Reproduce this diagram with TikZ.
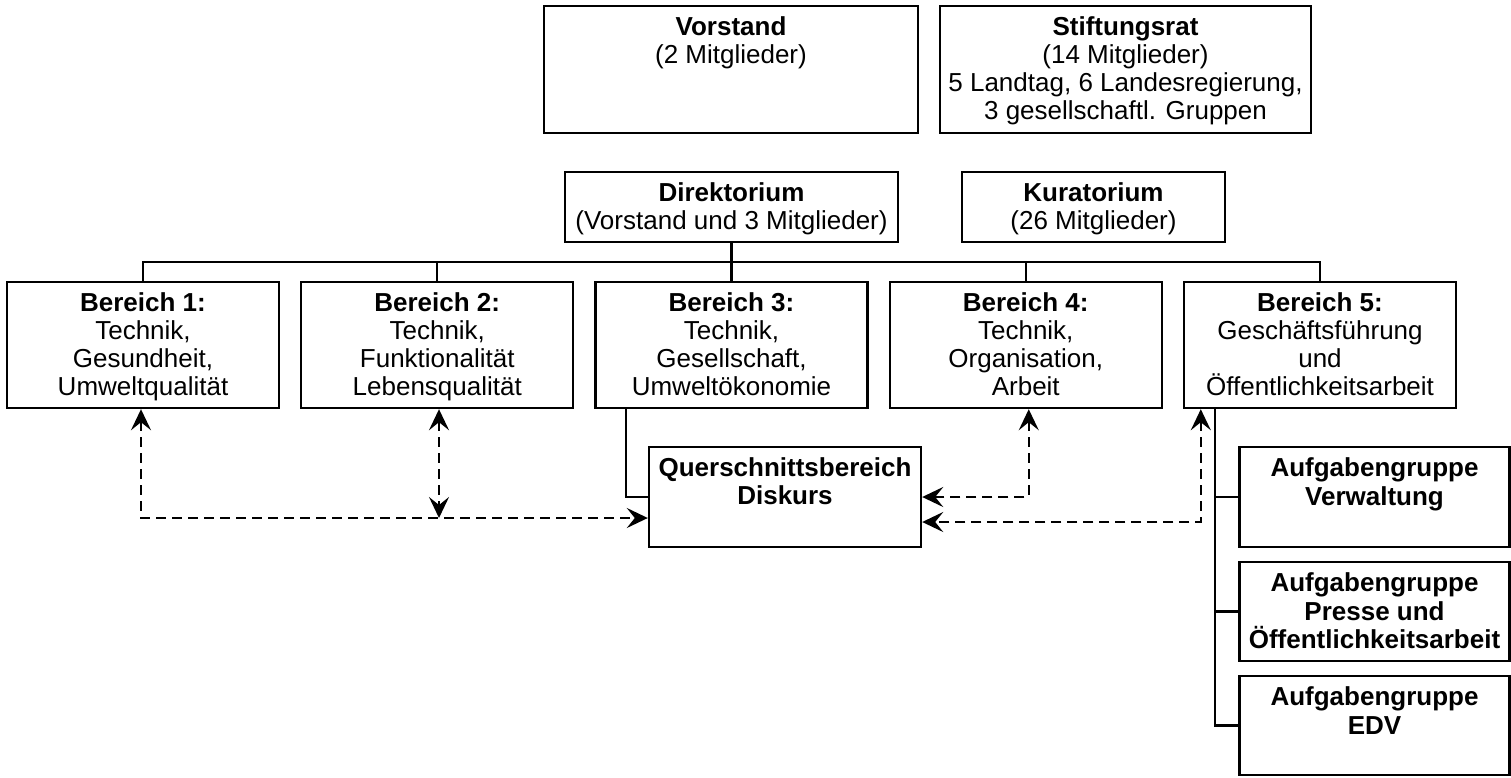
\documentclass[tikz,border=0pt]{standalone}
\usepackage{fontspec}
\setmainfont{Liberation Sans}
\usetikzlibrary{arrows.meta}
\begin{document}
\begin{tikzpicture}[x=1pt, y=-1pt,
  box/.style={draw, line width=2.4pt, inner sep=0pt},
  txt/.style={anchor=north, inner sep=0pt, align=center, font=\fontsize{26}{27.8}\selectfont},
  conn/.style={line width=2.2pt},
  tip/.style={Stealth[length=21pt,width=20pt,inset=8pt]},
  dlink/.style={line width=2.2pt, dash pattern=on 10pt off 6pt, {Stealth[length=21pt,width=20pt,inset=8pt]}-{Stealth[length=21pt,width=20pt,inset=8pt]}}]
\useasboundingbox (0,0) rectangle (1511,777);

% boxes
\node[box, minimum width=374pt, minimum height=127pt] (vor) at (731,69.5) {};
\node[box, minimum width=371pt, minimum height=127pt] (stif) at (1125.5,69.5) {};
\node[box, minimum width=333pt, minimum height=70pt] (dir) at (731.5,207) {};
\node[box, minimum width=263pt, minimum height=70pt] (kur) at (1093.5,207) {};
\node[box, minimum width=272pt, minimum height=126pt] (b1) at (143,345) {};
\node[box, minimum width=272pt, minimum height=126pt] (b2) at (437.25,345) {};
\node[box, minimum width=272pt, minimum height=126pt] (b3) at (731.5,345) {};
\node[box, minimum width=272pt, minimum height=126pt] (b4) at (1025.75,345) {};
\node[box, minimum width=272pt, minimum height=126pt] (b5) at (1320,345) {};
\node[box, minimum width=272pt, minimum height=100pt] (quer) at (785,497) {};
\node[box, minimum width=270pt, minimum height=100pt] (ag1) at (1374.5,497) {};
\node[box, minimum width=270pt, minimum height=99pt] (ag2) at (1374.5,611.5) {};
\node[box, minimum width=270pt, minimum height=99pt] (ag3) at (1374.5,725.5) {};

% texts
\node[txt] (vor-t) at ([yshift=-12pt]vor.north) {\textbf{Vorstand}\\(2 Mitglieder)};
\node[txt] (stif-t) at ([yshift=-12pt]stif.north) {\textbf{Stiftungsrat}\\(14 Mitglieder)\\5 Landtag, 6 Landesregierung,\\3 gesellschaftl. Gruppen};
\node[txt] (dir-t) at ([yshift=-12pt]dir.north) {\textbf{Direktorium}\\(Vorstand und 3 Mitglieder)};
\node[txt] (kur-t) at ([yshift=-12pt]kur.north) {\textbf{Kuratorium}\\(26 Mitglieder)};
\node[txt] (b1-t) at ([yshift=-12pt]b1.north) {\textbf{Bereich 1:}\\Technik,\\Gesundheit,\\Umweltqualität};
\node[txt] (b2-t) at ([yshift=-12pt]b2.north) {\textbf{Bereich 2:}\\Technik,\\Funktionalität\\Lebensqualität};
\node[txt] (b3-t) at ([yshift=-12pt]b3.north) {\textbf{Bereich 3:}\\Technik,\\Gesellschaft,\\Umweltökonomie};
\node[txt] (b4-t) at ([yshift=-12pt]b4.north) {\textbf{Bereich 4:}\\Technik,\\Organisation,\\Arbeit};
\node[txt] (b5-t) at ([yshift=-12pt]b5.north) {\textbf{Bereich 5:}\\Geschäftsführung\\und\\Öffentlichkeitsarbeit};
\node[txt, font=\fontsize{26}{27.5}\selectfont\bfseries] (quer-t) at ([yshift=-12pt]quer.north) {Querschnittsbereich\\Diskurs};
\node[txt, font=\fontsize{26}{28.5}\selectfont\bfseries] (ag1-t) at ([yshift=-12pt]ag1.north) {Aufgabengruppe\\Verwaltung};
\node[txt, font=\fontsize{26}{28.5}\selectfont\bfseries] (ag2-t) at ([yshift=-12pt]ag2.north) {Aufgabengruppe\\Presse und\\Öffentlichkeitsarbeit};
\node[txt, font=\fontsize{26}{28.5}\selectfont\bfseries] (ag3-t) at ([yshift=-12pt]ag3.north) {Aufgabengruppe\\EDV};

% solid connectors
\coordinate (bus) at (0,262);
\draw[conn] (b1.north) |- (bus -| b5.north) -- (b5.north);
\draw[conn] (b2.north) -- (b2.north |- bus);
\draw[conn] (b4.north) -- (b4.north |- bus);
\draw[conn] (dir.south) -- (b3.north);
\draw[conn] ([xshift=32pt]b3.south west) |- (quer.west);
\coordinate (trunk) at ([xshift=32pt]b5.south west);
\draw[conn] (trunk) |- (ag3.west);
\draw[conn] (ag1.west) -- (ag1.west -| trunk);
\draw[conn] (ag2.west) -- (ag2.west -| trunk);

% dashed connectors
\coordinate (qin1) at ([yshift=-21pt]quer.west);
\coordinate (qin2) at ([yshift=-25pt]quer.east);
\draw[dlink] ([xshift=-2pt]b1.south) |- (qin1);
\draw[dlink] ([xshift=1.75pt]b2.south) -- ([xshift=1.75pt]b2.south |- qin1);
\draw[dlink] ([xshift=3pt]b4.south) |- (quer.east);
\draw[dlink] ([xshift=18pt]b5.south west) |- (qin2);
\end{tikzpicture}
\end{document}
